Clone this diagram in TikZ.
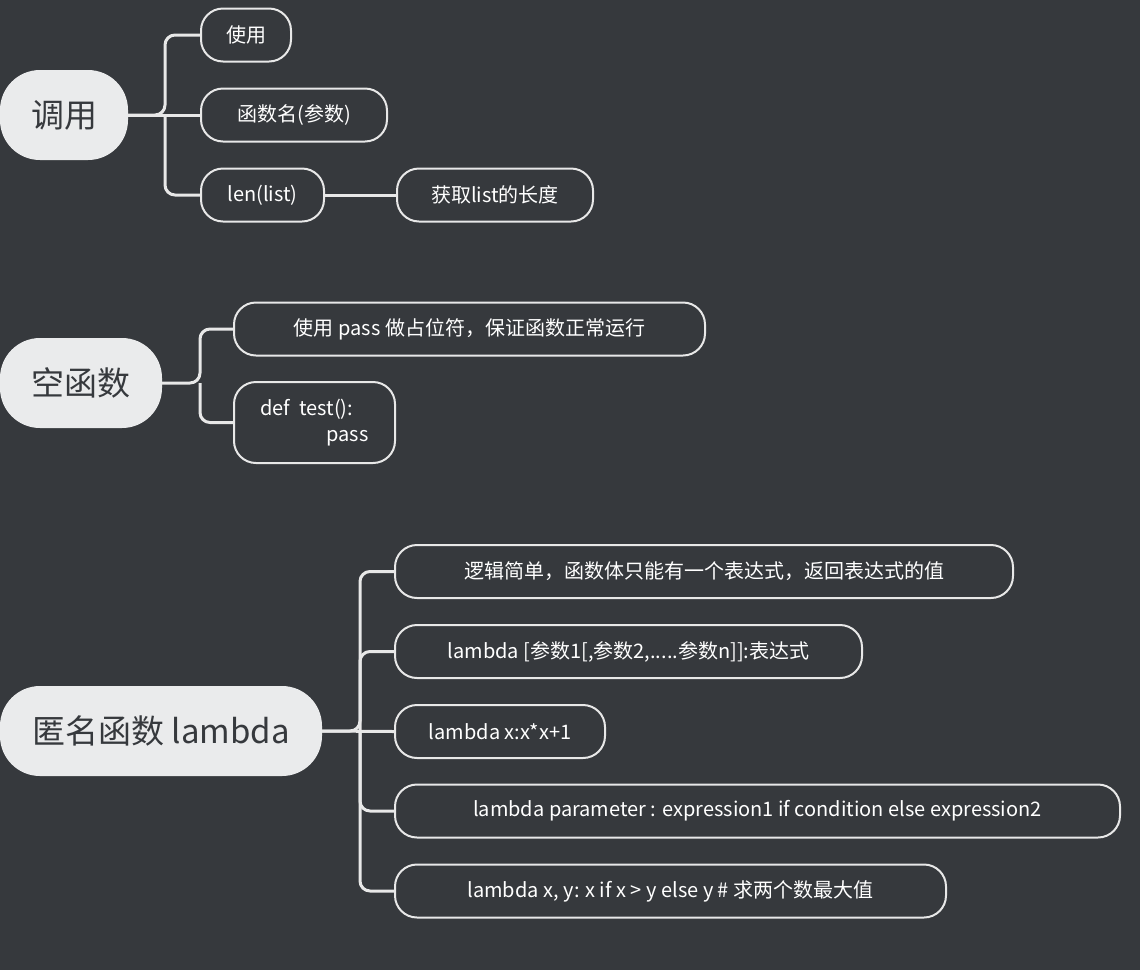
\documentclass[tikz,border=0pt]{standalone}
\usepackage{fontspec}
\setmainfont{Noto Sans CJK SC}
\definecolor{bg}{HTML}{36393D}
\definecolor{rootfill}{HTML}{EAEBEC}
\definecolor{ln}{HTML}{E8E8E8}
\begin{document}
\begin{tikzpicture}[x=1pt,y=-1pt,
  root/.style={fill=rootfill,rounded corners=40pt,inner sep=0pt,text=bg,font=\fontsize{33}{36}\selectfont,minimum height=90pt},
  leaf/.style={draw=ln,line width=2pt,fill=bg,rounded corners=22pt,inner sep=0pt,text=white,font=\fontsize{20}{26}\selectfont,minimum height=53pt},
  conn/.style={draw=ln,line width=3pt,rounded corners=10pt}]
\fill[bg] (0,0) rectangle (1140,970);
\useasboundingbox (0,0) rectangle (1140,970);
% group 1
\node[root,minimum width=128pt] (r1) at (64,115) {调用};
\node[leaf,minimum width=90pt] (a1) at (246,35) {使用};
\node[leaf,minimum width=186pt] (a2) at (294,115) {函数名(参数)};
\node[leaf,minimum width=123pt] (a3) at (262.5,195) {len(list)};
\node[leaf,minimum width=196pt] (a4) at (495,195) {获取list的长度};
\draw[conn] (r1.east) -- (165,115) |- (a1.west);
\draw[conn] (r1.east) -- (a2.west);
\draw[conn] (165,115) |- (a3.west);
\draw[conn] (a3.east) -- (a4.west);
% group 2
\node[root,minimum width=162pt] (r2) at (81,383) {空函数};
\node[leaf,minimum width=471pt] (b1) at (469.5,329) {使用 pass 做占位符，保证函数正常运行};
\node[leaf,minimum width=161pt,minimum height=81pt,align=left] (b2) at (314.5,422.5) {def\ \ test():\\\hspace*{3.3em}pass};
\draw[conn] (r2.east) -- (200,383) |- (b1.west);
\draw[conn] (200,383) |- (b2.west);
% group 3
\node[root,minimum width=322pt] (r3) at (161,731) {匿名函数 lambda};
\node[leaf,minimum width=618pt] (c1) at (704,571.5) {逻辑简单，函数体只能有一个表达式，返回表达式的值};
\node[leaf,minimum width=467pt] (c2) at (628.5,651.5) {lambda [参数1[,参数2,.....参数n]]:表达式};
\node[leaf,minimum width=210pt] (c3) at (500,731.5) {lambda x:x*x+1};
\node[leaf,minimum width=725pt] (c4) at (757.5,811) {lambda parameter : expression1 if condition else expression2};
\node[leaf,minimum width=551pt] (c5) at (670.5,891) {lambda x, y: x if x > y else y \# 求两个数最大值};
\draw[conn] (r3.east) -- (360,731) |- (c1.west);
\draw[conn] (360,731) |- (c2.west);
\draw[conn] (r3.east) -- (c3.west);
\draw[conn] (360,731) |- (c4.west);
\draw[conn] (360,731) |- (c5.west);
\end{tikzpicture}
\end{document}
